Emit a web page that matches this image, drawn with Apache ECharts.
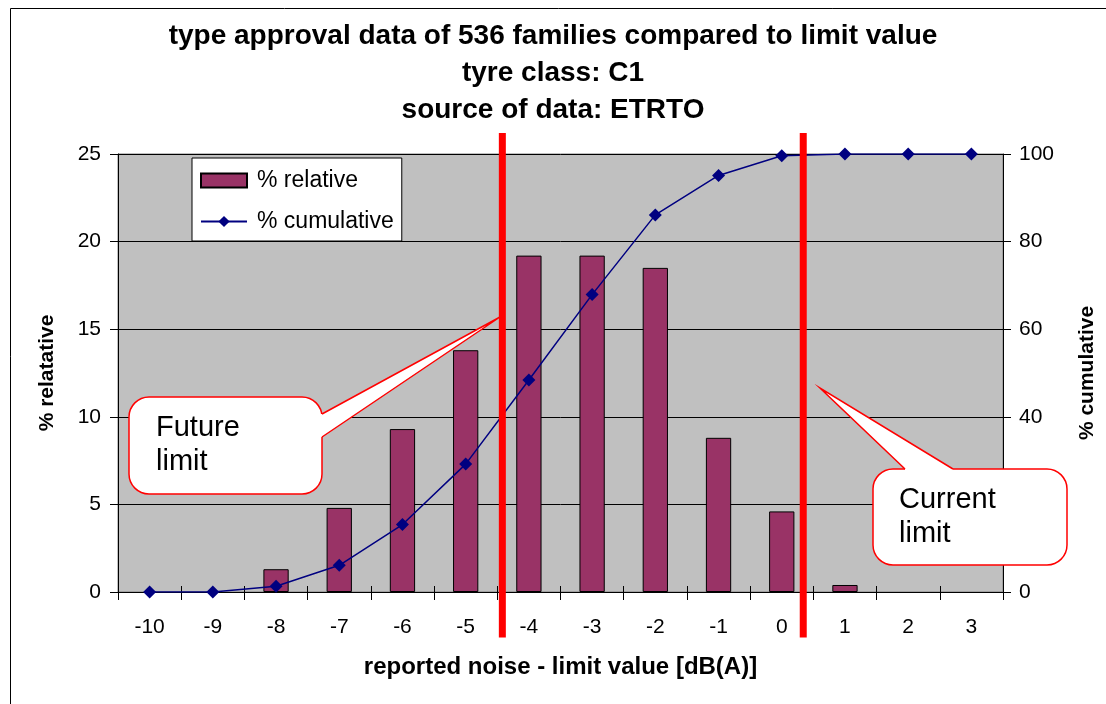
<!DOCTYPE html>
<html>
<head>
<meta charset="utf-8">
<script src="https://cdn.jsdelivr.net/npm/echarts@6/dist/echarts.min.js"></script>
<style>
html,body{margin:0;padding:0;background:#fff;}
#chart{width:1106px;height:704px;}
</style>
</head>
<body>
<div id="chart"></div>
<script>
// ---- data ----
var categories = ['-10','-9','-8','-7','-6','-5','-4','-3','-2','-1','0','1','2','3'];
var relativeValues = [0, 0, 1.3, 4.8, 9.3, 13.8, 19.2, 19.2, 18.5, 8.8, 4.6, 0.4, 0, 0];
var cumulativeValues = [0, 0, 1.3, 6.1, 15.4, 29.2, 48.4, 67.9, 86.1, 95.1, 99.6, 100, 100, 100];
var leftTicks = {min: 0, max: 25, interval: 5};
var rightTicks = {min: 0, max: 100, interval: 20};
var futureLimitPos = -4.42;   // position on the category scale (category centres at integers)
var currentLimitPos = 0.34;
var limitSpan = [-2.6, 26.2]; // vertical extent of the limit lines, in left-axis units
var titleLines = ['type approval data of 536 families compared to limit value', 'tyre class: C1', 'source of data: ETRTO'];

var FONT = '"Liberation Sans", Arial, sans-serif';

var chart = echarts.init(document.getElementById('chart'), null, {renderer: 'canvas'});

function limitLine(name, pos) {
  return {
    name: name, type: 'line', xAxisIndex: 1, yAxisIndex: 0,
    data: [[pos, limitSpan[0]], [pos, limitSpan[1]]],
    symbol: 'none', clip: false, silent: true, z: 10,
    lineStyle: {color: '#FF0000', width: 7, cap: 'butt'},
    animation: false
  };
}

// callout: rounded box + pointer (A, tip, B), A/B on box edge, inA/inB slightly inside box
function callout(box, A, B, tip, inA, inB, text, tx, ty) {
  return [
    {type: 'rect', shape: {x: box[0], y: box[1], width: box[2], height: box[3], r: 20},
     style: {fill: '#fff', stroke: '#FF0000', lineWidth: 1.5}, z: 20, silent: true},
    {type: 'polygon', shape: {points: [tip, A, inA, inB, B]},
     style: {fill: '#fff', stroke: null}, z: 21, silent: true},
    {type: 'polyline', shape: {points: [A, tip, B]},
     style: {stroke: '#FF0000', lineWidth: 1.5, fill: null}, z: 22, silent: true},
    {type: 'text', x: tx, y: ty, z: 23, silent: true,
     style: {text: text, font: '29px ' + FONT, fill: '#000', lineHeight: 34}}
  ];
}

var graphics = [
  {type: 'rect', shape: {x: 10.5, y: 8.5, width: 1200, height: 800}, style: {fill: null, stroke: '#000', lineWidth: 1}, z: -1, silent: true}
].concat(
  callout([129, 397, 193, 97], [322, 414], [322, 437], [500, 317], [318, 414], [318, 437], 'Future\nlimit', 156, 411),
  callout([873, 469, 194, 96], [905, 469], [953, 469], [820, 388], [905, 473], [953, 473], 'Current\nlimit', 899, 483)
);

var option = {
  animation: false,
  backgroundColor: '#ffffff',
  textStyle: {fontFamily: FONT},
  title: {
    text: titleLines.join('\n'),
    left: 'center', top: 13,
    textStyle: {fontFamily: FONT, fontSize: 28, fontWeight: 'bold', color: '#000', lineHeight: 37}
  },
  legend: {
    orient: 'vertical', left: 192, top: 158,
    backgroundColor: '#ffffff', borderColor: '#000', borderWidth: 1,
    padding: [11, 8, 8, 8], itemGap: 18,
    itemWidth: 46, itemHeight: 14,
    textStyle: {fontFamily: FONT, fontSize: 23, color: '#000', lineHeight: 20, padding: [0, 0, 0, 5]},
    data: [{name: '% relative', icon: 'rect'}, {name: '% cumulative'}]
  },
  grid: {
    left: 118, right: 99, top: 154, bottom: 112,
    show: true, backgroundColor: '#C0C0C0', borderColor: '#808080', borderWidth: 1
  },
  xAxis: [{
    type: 'category', data: categories, boundaryGap: true,
    axisLine: {show: true, onZero: false, lineStyle: {color: '#000', width: 1}},
    axisTick: {show: true, length: 8, lineStyle: {color: '#000'}, alignWithLabel: false},
    axisLabel: {fontFamily: FONT, fontSize: 21, color: '#000', margin: 25},
    splitLine: {show: false},
    name: 'reported noise - limit value [dB(A)]', nameLocation: 'middle', nameGap: 63,
    nameTextStyle: {fontFamily: FONT, fontSize: 24, fontWeight: 'bold', color: '#000'}
  }, {
    type: 'value', min: -10.5, max: 3.5, show: false
  }, {
    // inner half of the crossing tick marks
    type: 'category', data: categories, boundaryGap: true, position: 'bottom',
    axisLine: {show: false, onZero: false},
    axisTick: {show: true, inside: true, length: 6, lineStyle: {color: '#000'}},
    axisLabel: {show: false}, splitLine: {show: false}
  }],
  yAxis: [{
    type: 'value', min: leftTicks.min, max: leftTicks.max, interval: leftTicks.interval,
    axisLine: {show: true, onZero: false, lineStyle: {color: '#000', width: 1}},
    axisTick: {show: true, length: 8, lineStyle: {color: '#000'}},
    axisLabel: {fontFamily: FONT, fontSize: 21, color: '#000', margin: 17},
    splitLine: {show: true, lineStyle: {color: '#000', width: 1}},
    name: '% relatative', nameLocation: 'middle', nameGap: 60, nameRotate: 90,
    nameTextStyle: {fontFamily: FONT, fontSize: 21, fontWeight: 'bold', color: '#000'}
  }, {
    type: 'value', position: 'right', min: rightTicks.min, max: rightTicks.max, interval: rightTicks.interval,
    axisLine: {show: true, onZero: false, lineStyle: {color: '#000', width: 1}},
    axisTick: {show: true, length: 8, lineStyle: {color: '#000'}},
    axisLabel: {fontFamily: FONT, fontSize: 21, color: '#000', margin: 16},
    splitLine: {show: false},
    name: '% cumulative', nameLocation: 'middle', nameGap: 74, nameRotate: 90,
    nameTextStyle: {fontFamily: FONT, fontSize: 21, fontWeight: 'bold', color: '#000'}
  }],
  series: [{
    name: '% relative', type: 'bar', xAxisIndex: 0, yAxisIndex: 0,
    data: relativeValues.map(function (v) {
      return v === 0 ? {value: v, itemStyle: {borderWidth: 0}} : v;
    }),
    barWidth: '40%',
    itemStyle: {color: '#993366', borderColor: '#000', borderWidth: 1}
  }, {
    name: '% cumulative', type: 'line', xAxisIndex: 0, yAxisIndex: 1,
    data: cumulativeValues, symbol: 'diamond', symbolSize: 13, showAllSymbol: true,
    lineStyle: {color: '#000080', width: 1.5},
    itemStyle: {color: '#000080'}, z: 5
  },
  limitLine('Future limit line', futureLimitPos),
  limitLine('Current limit line', currentLimitPos)
  ],
  graphic: graphics
};
chart.setOption(option);
</script>
</body>
</html>
